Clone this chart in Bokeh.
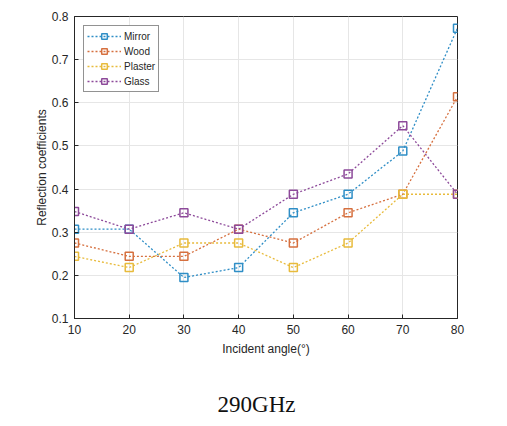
from bokeh.plotting import figure
from bokeh.models import Range1d, FixedTicker, Legend, LegendItem, PrintfTickFormatter, Div
from bokeh.layouts import column
from bokeh.embed import file_html
from bokeh.resources import INLINE

angles = [10, 20, 30, 40, 50, 60, 70, 80]
mirror = [0.307, 0.307, 0.195, 0.218, 0.345, 0.388, 0.488, 0.773]
wood = [0.275, 0.244, 0.244, 0.307, 0.275, 0.345, 0.388, 0.614]
plaster = [0.244, 0.218, 0.275, 0.275, 0.218, 0.275, 0.388, 0.388]
glass = [0.348, 0.307, 0.345, 0.307, 0.388, 0.435, 0.547, 0.388]
series_names = ["Mirror", "Wood", "Plaster", "Glass"]
series_vals = [mirror, wood, plaster, glass]
colors = ["#2f8ec6", "#d6703f", "#e8bb3c", "#8d4a9a"]
x_ticks = [10, 20, 30, 40, 50, 60, 70, 80]
y_ticks = [0.1, 0.2, 0.3, 0.4, 0.5, 0.6, 0.7, 0.8]
caption_text = "290GHz"

FONT = "Liberation Sans"
AX = "#262626"

p = figure(width=507, height=362, output_backend="svg", toolbar_location=None,
           x_range=Range1d(10, 80), y_range=Range1d(0.1, 0.8),
           min_border_left=74, min_border_right=50, min_border_top=16, min_border_bottom=44)
p.outline_line_color = AX
p.outline_line_width = 1
p.background_fill_color = "white"
p.border_fill_color = "white"

for ax in (p.xaxis[0], p.yaxis[0]):
    ax.major_tick_in = 4
    ax.major_tick_out = 0
    ax.minor_tick_line_color = None
    ax.axis_line_color = AX
    ax.major_tick_line_color = AX
    ax.major_label_text_font = FONT
    ax.major_label_text_font_size = "12px"
    ax.major_label_text_color = AX
    ax.axis_label_text_font = FONT
    ax.axis_label_text_font_size = "12px"
    ax.axis_label_text_font_style = "normal"
    ax.axis_label_text_color = AX

p.xaxis[0].ticker = FixedTicker(ticks=x_ticks)
p.yaxis[0].ticker = FixedTicker(ticks=y_ticks)
p.yaxis[0].formatter = PrintfTickFormatter(format="%.1f")
p.xaxis[0].axis_label = "Incident angle(°)"
p.yaxis[0].axis_label = "Reflection coefficients"
p.xaxis[0].major_label_standoff = 6
p.yaxis[0].major_label_standoff = 6
p.xaxis[0].axis_label_standoff = 5
p.yaxis[0].axis_label_standoff = 0

p.xgrid.ticker = FixedTicker(ticks=x_ticks)
p.ygrid.ticker = FixedTicker(ticks=y_ticks)
p.grid.grid_line_color = "#e6e6e6"
p.grid.grid_line_width = 1

items = []
for name, vals, c in zip(series_names, series_vals, colors):
    r1 = p.line(angles, vals, line_color=c, line_width=1.3, line_dash="2 2")
    r2 = p.scatter(angles, vals, marker="square", size=8, line_color=c, line_width=1.5,
                   fill_color="white", fill_alpha=0.0)
    items.append(LegendItem(label=name, renderers=[r1, r2]))

legend = Legend(items=items, location="top_left", margin=9, padding=3, spacing=1,
                label_text_font=FONT, label_text_font_size="10px", label_text_color=AX,
                glyph_width=34, glyph_height=14, label_height=14, label_standoff=3,
                border_line_color=AX, border_line_width=1, background_fill_alpha=1.0)
p.add_layout(legend, "center")

caption = Div(text=caption_text, width=507, height=64,
              styles={"font-family": "Liberation Serif", "font-size": "23px",
                      "color": "#111111", "text-align": "center",
                      "padding-top": "25px", "padding-right": "4px",
                      "line-height": "26px", "box-sizing": "border-box"})

layout = column(p, caption, spacing=0)
open("out.html", "w").write(file_html(layout, INLINE))
